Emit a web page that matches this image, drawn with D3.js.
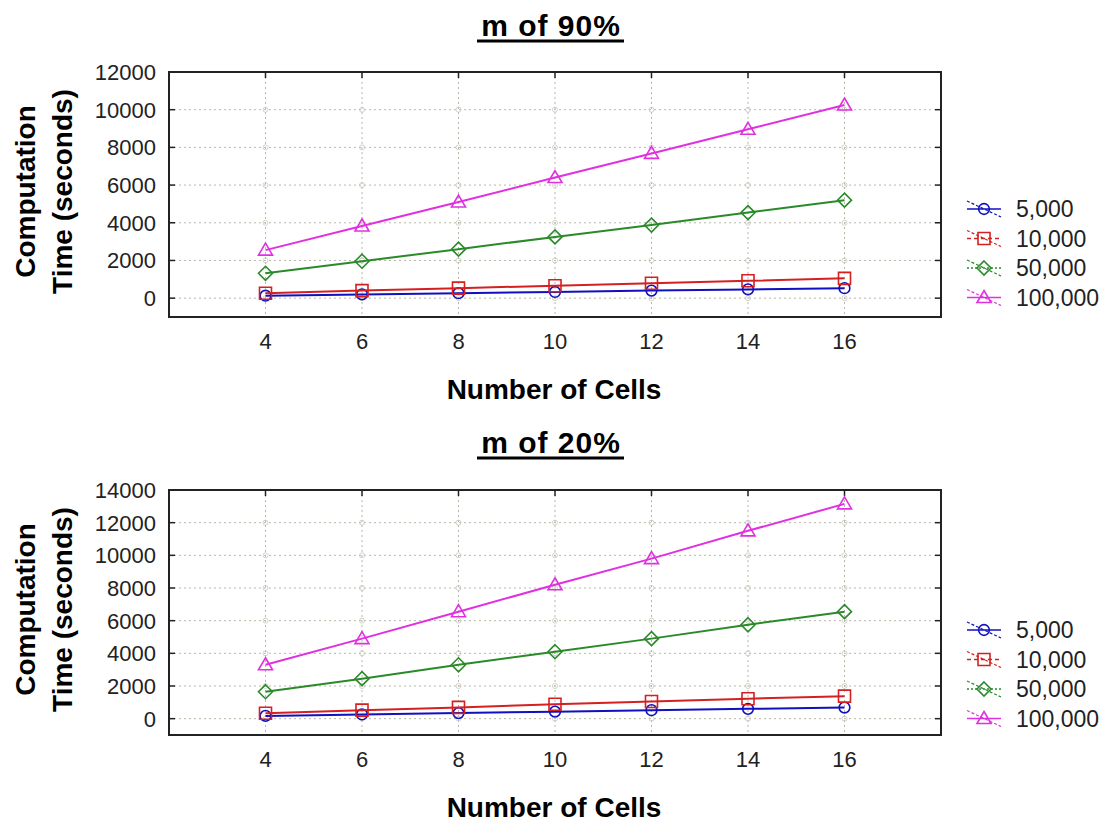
<!DOCTYPE html>
<html>
<head>
<meta charset="utf-8">
<script src="https://cdn.jsdelivr.net/npm/d3@7"></script>
<style>
  body { margin: 0; background: #fff; }
  text { font-family: "Liberation Sans", Arial, sans-serif; }
</style>
</head>
<body>
<div id="chart"></div>
<script>
// x values (number of cells)
const cells = [4, 6, 8, 10, 12, 14, 16];
const seriesNames = ["5,000", "10,000", "50,000", "100,000"];

// m of 90%
const top5k   = [130, 200, 265, 330, 400, 465, 530];
const top10k  = [260, 400, 530, 660, 790, 920, 1050];
const top50k  = [1320, 1960, 2600, 3250, 3880, 4540, 5200];
const top100k = [2550, 3830, 5100, 6400, 7680, 8960, 10250];

// m of 20%
const bot5k   = [170, 260, 340, 430, 520, 600, 680];
const bot10k  = [330, 520, 690, 880, 1050, 1220, 1380];
const bot50k  = [1650, 2450, 3300, 4100, 4900, 5750, 6550];
const bot100k = [3300, 4900, 6550, 8200, 9800, 11500, 13150];

const xTicks = [4, 6, 8, 10, 12, 14, 16];
const topYTicks = [0, 2000, 4000, 6000, 8000, 10000, 12000];
const botYTicks = [0, 2000, 4000, 6000, 8000, 10000, 12000, 14000];

const colors = ["#1010c0", "#d42020", "#2a8a2a", "#e030e0"];
const markers = ["circle", "square", "diamond", "triangle"];
const legendDash = [null, "4,3", "2,2", null];

const svg = d3.select("#chart").append("svg")
    .attr("width", 1105).attr("height", 822);

function markerPath(type) {
    if (type === "circle") return d3.symbol().type(d3.symbolCircle).size(90)();
    if (type === "square") return "M-6,-6H6V6H-6Z";
    if (type === "diamond") return "M0,-7L7,0L0,7L-7,0Z";
    return "M0,-7L7,5H-7Z";
}

function drawPanel(opts) {
    const {title, titleY, top, bottom, yMax, yTicks, data, legendY} = opts;
    const left = 169, right = 941;

    const x = d3.scaleLinear().domain([2, 18]).range([left, right]);
    const y = d3.scaleLinear().domain([-1000, yMax]).range([bottom, top]);

    const g = svg.append("g");

    // title, underlined
    g.append("text")
        .attr("x", 551).attr("y", titleY)
        .attr("text-anchor", "middle")
        .attr("font-weight", 700)
        .attr("font-size", "30px")
        .attr("letter-spacing", "1px")
        .text(title);
    g.append("line")
        .attr("x1", 477).attr("x2", 624)
        .attr("y1", titleY + 5).attr("y2", titleY + 5)
        .attr("stroke", "#000").attr("stroke-width", 3);

    // grid
    const gridCol = "#b8b8a8";
    const innerY = yTicks.filter(d => d < yMax);
    g.selectAll(".gx").data(xTicks).enter().append("line")
        .attr("x1", d => x(d)).attr("x2", d => x(d))
        .attr("y1", top).attr("y2", bottom)
        .attr("stroke", gridCol).attr("stroke-dasharray", "2,3");
    g.selectAll(".gy").data(innerY).enter().append("line")
        .attr("x1", left).attr("x2", right)
        .attr("y1", d => y(d)).attr("y2", d => y(d))
        .attr("stroke", gridCol).attr("stroke-dasharray", "2,3");
    // small circles at grid crossings
    const crossings = [];
    xTicks.forEach(a => innerY.forEach(b => crossings.push([a, b])));
    g.selectAll(".gc").data(crossings).enter().append("circle")
        .attr("cx", d => x(d[0])).attr("cy", d => y(d[1])).attr("r", 2.5)
        .attr("fill", "none").attr("stroke", "#c8c8c0").attr("stroke-width", 0.8);

    // frame
    g.append("rect")
        .attr("x", left).attr("y", top)
        .attr("width", right - left).attr("height", bottom - top)
        .attr("fill", "none").attr("stroke", "#222").attr("stroke-width", 2);

    // inner ticks
    g.selectAll(".tl").data(innerY).enter().append("line")
        .attr("x1", left).attr("x2", left + 6)
        .attr("y1", d => y(d)).attr("y2", d => y(d))
        .attr("stroke", "#222").attr("stroke-width", 1.5);
    g.selectAll(".tr").data(innerY).enter().append("line")
        .attr("x1", right - 6).attr("x2", right)
        .attr("y1", d => y(d)).attr("y2", d => y(d))
        .attr("stroke", "#222").attr("stroke-width", 1.5);
    g.selectAll(".tt").data(xTicks).enter().append("line")
        .attr("x1", d => x(d)).attr("x2", d => x(d))
        .attr("y1", top).attr("y2", top + 6)
        .attr("stroke", "#222").attr("stroke-width", 1.5);

    // tick labels
    g.selectAll(".yl").data(yTicks).enter().append("text")
        .attr("x", left - 13).attr("y", d => y(d))
        .attr("dy", "0.36em")
        .attr("text-anchor", "end")
        .attr("font-size", "22px")
        .attr("fill", "#222")
        .text(d => d);
    g.selectAll(".xl").data(xTicks).enter().append("text")
        .attr("x", d => x(d)).attr("y", bottom + 32)
        .attr("text-anchor", "middle")
        .attr("font-size", "22px")
        .attr("fill", "#222")
        .text(d => d);

    // axis titles
    g.append("text")
        .attr("x", 554).attr("y", bottom + 82)
        .attr("text-anchor", "middle")
        .attr("font-weight", 700).attr("font-size", "28px")
        .text("Number of Cells");
    const cy = (top + bottom) / 2 - 3;
    g.append("text")
        .attr("transform", `translate(35,${cy}) rotate(-90)`)
        .attr("text-anchor", "middle")
        .attr("font-weight", 700).attr("font-size", "28px")
        .text("Computation");
    g.append("text")
        .attr("transform", `translate(72,${cy}) rotate(-90)`)
        .attr("text-anchor", "middle")
        .attr("font-weight", 700).attr("font-size", "28px")
        .text("Time (seconds)");

    // series
    const line = d3.line().x((d, i) => x(cells[i])).y(d => y(d));
    data.forEach((vals, s) => {
        g.append("path")
            .attr("d", line(vals))
            .attr("fill", "none")
            .attr("stroke", colors[s]).attr("stroke-width", 2);
        g.selectAll(".m" + s).data(vals).enter().append("path")
            .attr("transform", (d, i) => `translate(${x(cells[i])},${y(d)})`)
            .attr("d", markerPath(markers[s]))
            .attr("fill", "none")
            .attr("stroke", colors[s]).attr("stroke-width", 1.6);
    });

    // legend
    const lg = g.append("g");
    seriesNames.forEach((name, s) => {
        const ly = legendY + s * 29.5;
        const cx = 984;
        lg.append("line")
            .attr("x1", cx - 17).attr("x2", cx + 17)
            .attr("y1", ly).attr("y2", ly)
            .attr("stroke", colors[s]).attr("stroke-width", 1.6)
            .attr("stroke-dasharray", legendDash[s]);
        lg.append("line")
            .attr("x1", cx - 17).attr("x2", cx + 17)
            .attr("y1", ly - 8).attr("y2", ly + 8)
            .attr("stroke", colors[s]).attr("stroke-width", 1.2)
            .attr("stroke-dasharray", "3,2");
        lg.append("path")
            .attr("transform", `translate(${cx},${ly})`)
            .attr("d", markerPath(markers[s]))
            .attr("fill", "none")
            .attr("stroke", colors[s]).attr("stroke-width", 1.6);
        lg.append("text")
            .attr("x", 1016).attr("y", ly)
            .attr("dy", "0.36em")
            .attr("font-size", "23px")
            .attr("fill", "#222")
            .text(name);
    });
}

drawPanel({
    title: "m of 90%", titleY: 36, top: 72, bottom: 317, yMax: 12000,
    yTicks: topYTicks, data: [top5k, top10k, top50k, top100k], legendY: 209
});
drawPanel({
    title: "m of 20%", titleY: 453, top: 490, bottom: 735, yMax: 14000,
    yTicks: botYTicks, data: [bot5k, bot10k, bot50k, bot100k], legendY: 630
});
</script>
</body>
</html>
